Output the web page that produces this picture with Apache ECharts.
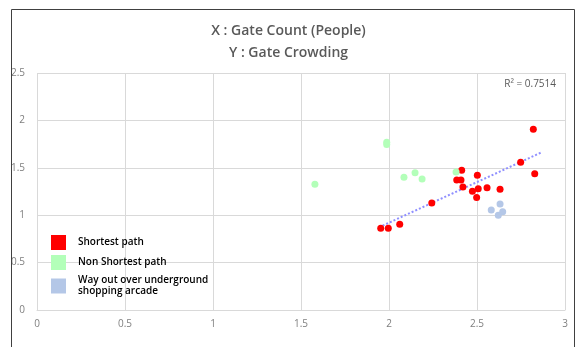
<!DOCTYPE html>
<html>
<head>
<meta charset="utf-8">
<script src="https://cdn.jsdelivr.net/npm/echarts@6/dist/echarts.min.js"></script>
<style>
html,body{margin:0;padding:0;background:#fff;}
#c{width:577px;height:347px;}
</style>
</head>
<body>
<div id="c"></div>
<script>
const titleLines = ['X : Gate Count (People)', 'Y : Gate Crowding'];
const seriesNames = ['Shortest path', 'Non Shortest path', 'Way out over underground\nshopping arcade'];
const seriesColors = ['#ff0000', '#b3ffb9', '#b4c7e7'];

const shortestX = [2.820, 2.748, 2.828, 2.413, 2.385, 2.409, 2.502, 2.420, 2.474, 2.507, 2.557, 2.631, 2.498, 2.243, 2.061, 1.996, 1.953];
const shortestY = [1.906, 1.558, 1.438, 1.473, 1.371, 1.371, 1.421, 1.297, 1.252, 1.280, 1.290, 1.273, 1.188, 1.129, 0.904, 0.862, 0.862];

const nonShortestX = [1.579, 1.987, 1.987, 2.085, 2.148, 2.188, 2.381];
const nonShortestY = [1.326, 1.770, 1.745, 1.400, 1.449, 1.382, 1.456];

const wayOutX = [2.631, 2.581, 2.646, 2.621];
const wayOutY = [1.118, 1.055, 1.037, 0.999];

const trendX = [1.943, 2.862];
const trendY = [0.872, 1.659];
const rSquaredLabel = 'R² = 0.7514';

const xTicks = [0, 0.5, 1, 1.5, 2, 2.5, 3];
const yTicks = [0, 0.5, 1, 1.5, 2, 2.5];

function pairs(xs, ys) { return xs.map((x, i) => [x, ys[i]]); }

const chart = echarts.init(document.getElementById('c'), null, {renderer: 'canvas'});
const FONT = '"Open Sans", "Noto Sans", sans-serif';
const gridColor = '#d9d9d9';
const labelColor = '#595959';

const scatterSeries = [
  pairs(shortestX, shortestY),
  pairs(nonShortestX, nonShortestY),
  pairs(wayOutX, wayOutY)
].map((d, i) => ({
  name: seriesNames[i],
  type: 'scatter',
  data: d,
  symbol: 'circle',
  symbolSize: 7,
  itemStyle: {color: seriesColors[i], opacity: 1},
  z: 3
}));

chart.setOption({
  animation: false,
  textStyle: {fontFamily: FONT},
  title: [
    {text: titleLines[0], left: 'center', top: 19, textStyle: {fontFamily: FONT, fontSize: 14, fontWeight: 600, color: labelColor}},
    {text: titleLines[1], left: 'center', top: 41, textStyle: {fontFamily: FONT, fontSize: 14, fontWeight: 600, color: labelColor}}
  ],
  grid: {left: 37, right: 12, top: 73, bottom: 37, containLabel: false},
  legend: {
    orient: 'vertical',
    left: 51,
    top: 235,
    itemWidth: 15,
    itemHeight: 15,
    itemGap: 5,
    icon: 'rect',
    data: seriesNames,
    textStyle: {fontFamily: FONT, fontSize: 10, fontWeight: 600, color: '#000', lineHeight: 11, padding: [0, 0, 0, 7]},
    padding: 0
  },
  xAxis: {
    type: 'value',
    min: xTicks[0],
    max: xTicks[xTicks.length - 1],
    interval: 0.5,
    axisLine: {show: true, lineStyle: {color: gridColor}},
    axisTick: {show: false},
    splitLine: {show: true, lineStyle: {color: gridColor}},
    axisLabel: {color: '#7f7f7f', fontSize: 10, margin: 9, fontFamily: FONT}
  },
  yAxis: {
    type: 'value',
    min: yTicks[0],
    max: yTicks[yTicks.length - 1],
    interval: 0.5,
    axisLine: {show: false},
    axisTick: {show: false},
    splitLine: {show: true, lineStyle: {color: gridColor}},
    axisLabel: {color: '#7f7f7f', fontSize: 10, margin: 12, fontFamily: FONT}
  },
  graphic: [
    {type: 'rect', shape: {x: 11.5, y: 9.5, width: 563, height: 360}, style: {fill: 'none', stroke: '#404040', lineWidth: 1}, z: 10, silent: true},
    {type: 'text', right: 21, top: 79, style: {text: rSquaredLabel, font: '10px "Open Sans", sans-serif', fill: labelColor}, z: 10}
  ],
  series: [
    ...scatterSeries,
    {
      name: 'trend',
      type: 'line',
      data: pairs(trendX, trendY),
      symbol: 'none',
      lineStyle: {color: '#8f8fff', width: 2, type: [2, 2]},
      z: 2,
      silent: true
    }
  ]
});
</script>
</body>
</html>
